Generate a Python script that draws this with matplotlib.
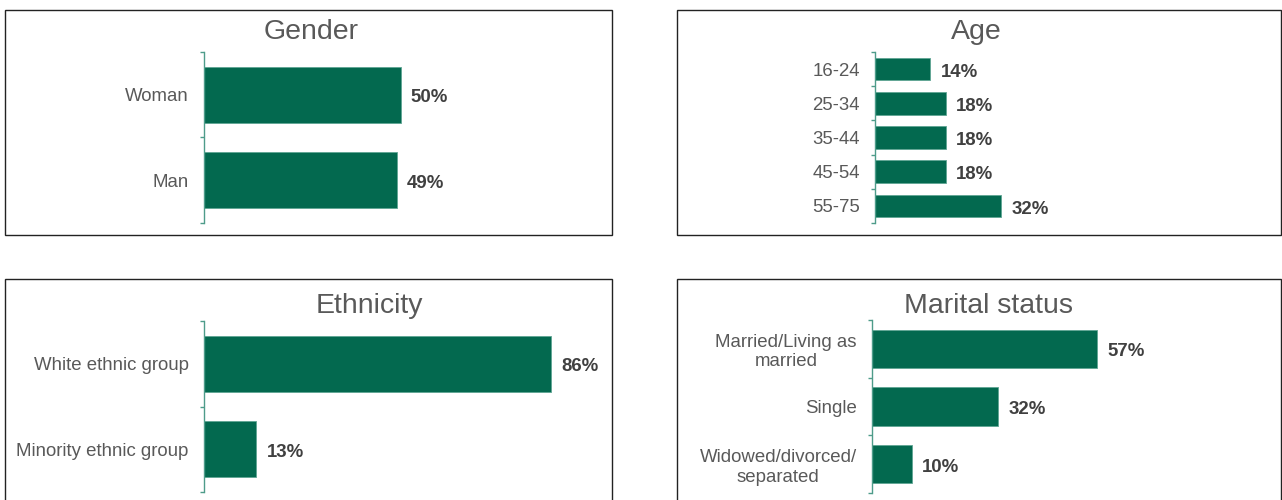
import matplotlib
matplotlib.use("Agg")
import matplotlib.pyplot as plt
from matplotlib.patches import Rectangle

plt.rcParams["font.family"] = ["Liberation Sans", "DejaVu Sans"]

# Survey profile data
gender_labels = ["Woman", "Man"]
gender_values = [50, 49]

age_labels = ["16-24", "25-34", "35-44", "45-54", "55-75"]
age_values = [14, 18, 18, 18, 32]

ethnicity_labels = ["White ethnic group", "Minority ethnic group"]
ethnicity_values = [86, 13]

marital_labels = ["Married/Living as\nmarried", "Single", "Widowed/divorced/\nseparated"]
marital_values = [57, 32, 10]

W, H = 1282, 500
BAR = "#03694F"
AXIS = "#4E9C8A"
LABEL = "#595959"
VALUE = "#404040"

fig = plt.figure(figsize=(W / 100, H / 100), dpi=100)
fig.patch.set_facecolor("white")


def frame(x0, y0, x1, y1):
    fig.patches.append(Rectangle((x0 / W, 1 - y1 / H), (x1 - x0) / W, (y1 - y0) / H,
                                 transform=fig.transFigure, fill=False,
                                 edgecolor="#222222", linewidth=1.0))


def panel(title, tx, ty, labels, values, left, top, bottom, px_per_pct):
    width = 100 * px_per_pct
    ax = fig.add_axes([left / W, 1 - bottom / H, width / W, (bottom - top) / H])
    n = len(values)
    ax.barh(range(n), values, height=0.66, color=BAR, edgecolor="#5FA594", linewidth=0.6)
    ax.set_xlim(0, 100)
    ax.set_ylim(n - 0.5, -0.5)
    for s in ("top", "right", "bottom"):
        ax.spines[s].set_visible(False)
    ax.spines["left"].set_color(AXIS)
    ax.spines["left"].set_linewidth(1.0)
    ax.set_xticks([])
    ax.set_yticks(range(n))
    ax.set_yticklabels(labels)
    ax.set_yticks([i - 0.5 for i in range(n + 1)], minor=True)
    ax.tick_params(axis="y", which="major", length=0, pad=11, labelsize=13.4, labelcolor=LABEL)
    ax.tick_params(axis="y", which="minor", length=3, width=1.0, color=AXIS, direction="out")
    for t in ax.get_yticklabels():
        t.set_multialignment("center")
    for i, v in enumerate(values):
        ax.annotate(f"{v}%", (v, i), xytext=(7.5, -0.8), textcoords="offset points",
                    va="center_baseline", ha="left", fontsize=13.4, fontweight="bold",
                    color=VALUE, annotation_clip=False)
    ax.patch.set_alpha(0)
    fig.text(tx / W, 1 - ty / H, title, fontsize=20.5, color=LABEL, ha="center", va="baseline")


frame(5, 10, 612, 235)
frame(677, 10, 1280.5, 235)
frame(5, 279, 612, 520)
frame(677, 279, 1280.5, 520)

panel("Gender", 311, 39, gender_labels, gender_values, 204, 52, 223, 3.93)
panel("Age", 976, 39, age_labels, age_values, 875, 52, 223, 3.93)
panel("Ethnicity", 369, 313, ethnicity_labels, ethnicity_values, 204, 321, 492, 4.03)
panel("Marital status", 989, 313, marital_labels, marital_values, 872, 320, 493, 3.95)

fig.savefig("out.png", dpi=100)
